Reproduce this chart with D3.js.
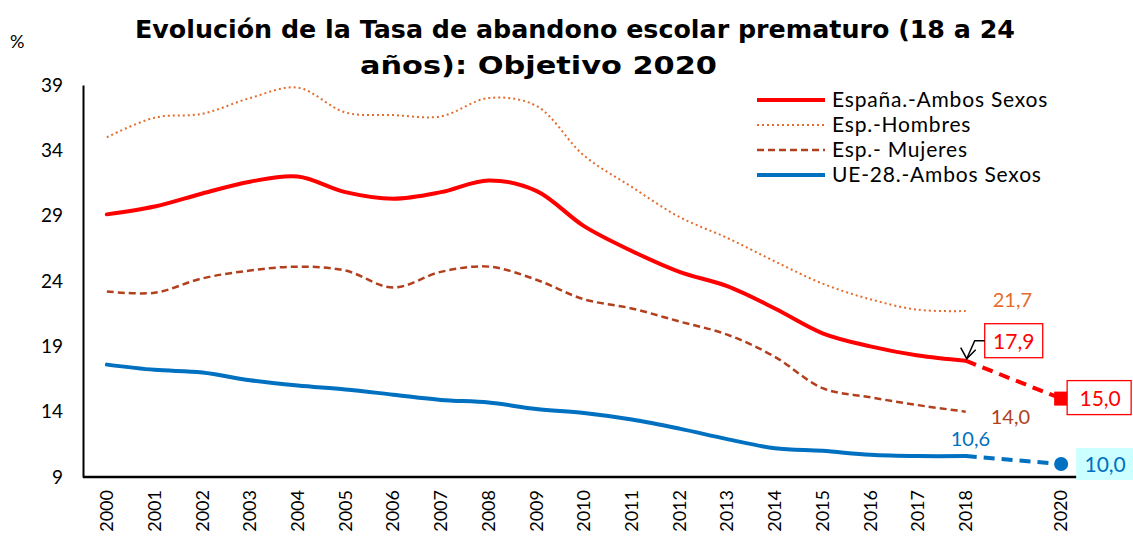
<!DOCTYPE html>
<html><head><meta charset="utf-8">
<script src="https://cdn.jsdelivr.net/npm/d3@7"></script>
<style>body{margin:0;background:#fff}svg{display:block}text{font-family:Lato,"Open Sans",sans-serif}</style>
</head><body><svg id="c" width="1133" height="537"></svg>
<script>
const years = ["2000","2001","2002","2003","2004","2005","2006","2007","2008","2009","2010","2011","2012","2013","2014","2015","2016","2017","2018","2019","2020"];
const dataYears = years.slice(0,19);
const espana = [29.1,29.7,30.7,31.6,32.0,30.8,30.3,30.8,31.7,30.9,28.2,26.3,24.7,23.6,21.9,20.0,19.0,18.3,17.9];
const hombres = [35.0,36.5,36.8,38.0,38.8,36.9,36.7,36.6,38.0,37.4,33.6,31.2,28.9,27.3,25.5,23.8,22.6,21.8,21.7];
const mujeres = [23.2,23.1,24.2,24.8,25.1,24.8,23.5,24.7,25.1,24.1,22.6,21.9,20.9,19.9,18.2,15.8,15.1,14.5,14.0];
const ue28 = [17.6,17.2,17.0,16.4,16.0,15.7,15.3,14.9,14.7,14.2,13.9,13.4,12.7,11.9,11.2,11.0,10.7,10.6,10.6];
const objEspana = [["2018",17.9],["2020",15.0]];
const objUE = [["2018",10.6],["2020",10.0]];
const yTicks = [9,14,19,24,29,34,39];
const xLabels = years.filter(y => y !== "2019");
const legendItems = [
  {name:"España.-Ambos Sexos", color:"#FF0000", w:4, dash:null},
  {name:"Esp.-Hombres", color:"#E46C2C", w:2, dash:"2,3"},
  {name:"Esp.- Mujeres", color:"#B2401E", w:2.5, dash:"7,4"},
  {name:"UE-28.-Ambos Sexos", color:"#0070C0", w:4, dash:null}
];

const svg = d3.select("#c");
const x = d3.scaleBand().domain(years).range([83,1085]);
const xc = d => x(d) + x.bandwidth()/2;
const y = d3.scaleLinear().domain([9,39]).range([477,85]);

// title
const title = svg.append("text").attr("font-weight","bold").attr("font-size",25).attr("fill","#000").style("font-family","'DejaVu Sans',sans-serif");
title.append("tspan").attr("x",135).attr("y",38).attr("textLength",880).attr("lengthAdjust","spacingAndGlyphs").text("Evolución de la Tasa de abandono escolar prematuro (18 a 24");
svg.append("text").attr("font-weight","bold").attr("font-size",25).attr("fill","#000").style("font-family","'DejaVu Sans',sans-serif")
  .attr("x",360).attr("y",74).attr("textLength",357).attr("lengthAdjust","spacingAndGlyphs").text("años): Objetivo 2020");

svg.append("text").attr("x",10).attr("y",48).attr("font-size",18).text("%");

// y axis
const yAxis = svg.append("g").attr("transform","translate(83,0)")
  .call(d3.axisLeft(y).tickValues(yTicks).tickSize(0).tickPadding(20).tickFormat(d3.format("d")));
yAxis.select(".domain").attr("stroke","#000").attr("stroke-width",2);
yAxis.selectAll("text").attr("font-size",19).attr("fill","#000").style("font-family","Lato");

// x axis
const xAxis = svg.append("g").attr("transform","translate(0,477)")
  .call(d3.axisBottom(x).tickValues(xLabels).tickSize(0).tickPadding(0));
xAxis.select(".domain").attr("stroke","#000").attr("stroke-width",2.5).attr("d","M83,0H1085");
xAxis.selectAll("text").attr("font-size",18).attr("fill","#000").style("font-family","Lato")
  .attr("transform","rotate(-90)").attr("text-anchor","end").attr("dy","0.35em").attr("x",-13).attr("y",0);

const line = d3.line().x(d=>xc(d[0])).y(d=>y(d[1])).curve(d3.curveCatmullRom.alpha(0.5));
const zip = arr => dataYears.map((yr,i)=>[yr,arr[i]]);

svg.append("path").attr("d",line(zip(hombres))).attr("fill","none").attr("stroke","#E46C2C").attr("stroke-width",2).attr("stroke-dasharray","2,3");
svg.append("path").attr("d",line(zip(mujeres))).attr("fill","none").attr("stroke","#B2401E").attr("stroke-width",2.5).attr("stroke-dasharray","7,4");
svg.append("path").attr("d",line(zip(ue28))).attr("fill","none").attr("stroke","#0070C0").attr("stroke-width",4).attr("stroke-linecap","round");
svg.append("path").attr("d",line(zip(espana))).attr("fill","none").attr("stroke","#FF0000").attr("stroke-width",4).attr("stroke-linecap","round");

const lin = d3.line().x(d=>xc(d[0])).y(d=>y(d[1]));
svg.append("path").attr("d",lin(objEspana)).attr("fill","none").attr("stroke","#FF0000").attr("stroke-width",4).attr("stroke-dasharray","11,7");
svg.append("path").attr("d",lin(objUE)).attr("fill","none").attr("stroke","#0070C0").attr("stroke-width",4).attr("stroke-dasharray","11,7");

// markers
svg.append("rect").attr("x",xc("2020")-7).attr("y",y(15.0)-7).attr("width",14).attr("height",14).attr("fill","#FF0000");
svg.append("circle").attr("cx",xc("2020")).attr("cy",y(10.0)).attr("r",7).attr("fill","#0070C0");

// labels
svg.append("text").attr("x",xc("2018")+27).attr("y",y(21.7)-4).attr("font-size",20).attr("fill","#E46C2C").text("21,7");
svg.append("text").attr("x",xc("2018")+25).attr("y",y(14.0)+12).attr("font-size",20).attr("fill","#B2401E").text("14,0");
svg.append("text").attr("x",xc("2018")-15).attr("y",y(10.6)-10).attr("font-size",20).attr("fill","#0070C0").text("10,6");

// 17,9 box
const bx = xc("2018")+19, by = y(17.9)-37;
svg.append("rect").attr("x",bx).attr("y",by).attr("width",58).attr("height",34).attr("fill","#fff").attr("stroke","#FF0000").attr("stroke-width",1.3);
svg.append("text").attr("x",bx+29).attr("y",by+25).attr("text-anchor","middle").attr("font-size",21).attr("fill","#FF0000").text("17,9");
// callout arrow
const tipX = xc("2018")+1, tipY = y(17.9)-2;
svg.append("path").attr("d",`M${bx},${by+17}H${bx-10}L${tipX},${tipY}`).attr("fill","none").attr("stroke","#000").attr("stroke-width",1.5);
svg.append("path").attr("d",`M${tipX-6},${tipY-11}L${tipX},${tipY}L${tipX+9},${tipY-9}`).attr("fill","none").attr("stroke","#000").attr("stroke-width",1.5);

// 15,0 box
const b2x = xc("2020")+6, b2y = y(15.0)-18;
svg.append("rect").attr("x",b2x).attr("y",b2y).attr("width",64).attr("height",34).attr("fill","#fff").attr("stroke","#FF0000").attr("stroke-width",1.3);
svg.append("text").attr("x",b2x+33).attr("y",b2y+25).attr("text-anchor","middle").attr("font-size",21).attr("fill","#FF0000").text("15,0");

// 10,0 box
const b3x = xc("2020")+15, b3y = y(10.0)-16;
svg.append("rect").attr("x",b3x).attr("y",b3y).attr("width",60).attr("height",32).attr("fill","#CCFFFF");
svg.append("text").attr("x",b3x+29).attr("y",b3y+24).attr("text-anchor","middle").attr("font-size",21).attr("fill","#0070C0").text("10,0");

// legend
const lg = svg.append("g");
legendItems.forEach((d,i)=>{
  const yy = 100 + i*25;
  lg.append("line").attr("x1",757).attr("x2",825).attr("y1",yy).attr("y2",yy).attr("stroke",d.color).attr("stroke-width",d.w).attr("stroke-dasharray",d.dash);
  lg.append("text").attr("x",832).attr("y",yy+7).attr("font-size",21).attr("letter-spacing",0.8).attr("fill","#000").text(d.name);
});
</script></body></html>
